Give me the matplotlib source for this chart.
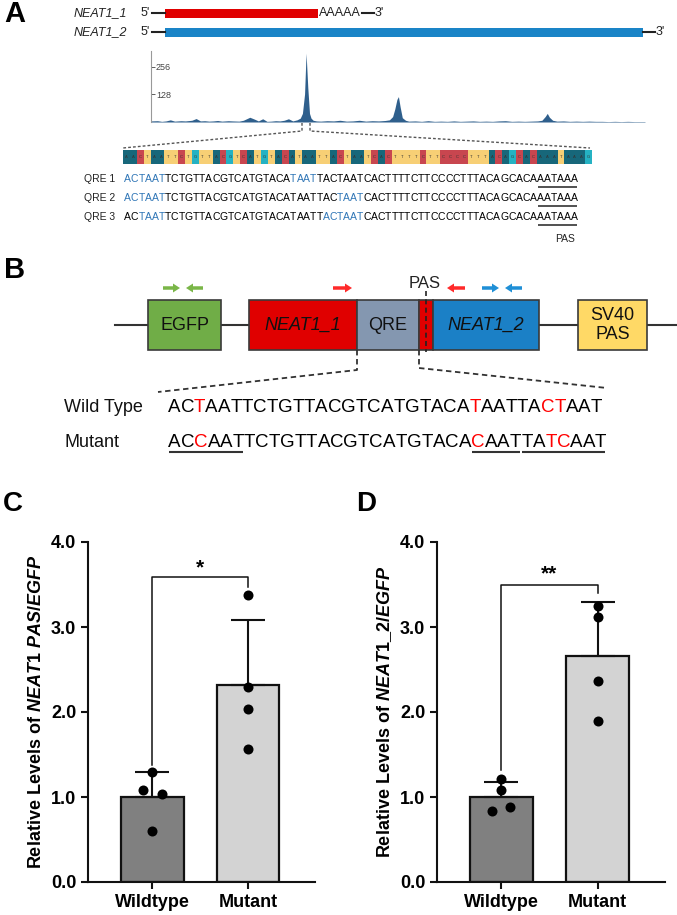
import numpy as np
import matplotlib
matplotlib.use('Agg')
import matplotlib.pyplot as plt
from matplotlib.patches import Rectangle

plt.rcParams['font.family'] = ['Liberation Sans', 'DejaVu Sans']
plt.rcParams['mathtext.fontset'] = 'custom'
plt.rcParams['mathtext.rm'] = 'Liberation Sans:bold'
plt.rcParams['mathtext.it'] = 'Liberation Sans:italic:bold'
plt.rcParams['mathtext.bf'] = 'Liberation Sans:bold'

# ---------------- data ----------------
groups = ['Wildtype', 'Mutant']
# panel C: NEAT1 PAS / EGFP
pas_wt = [1.29, 1.08, 1.03, 0.60]
pas_mut = [3.38, 2.29, 2.03, 1.57]
pas_wt_jit = [0.0, -0.097, 0.10, 0.0]
# panel D: NEAT1_2 / EGFP
n2_wt = [1.21, 1.08, 0.88, 0.83]
n2_mut = [3.25, 3.12, 2.37, 1.90]
n2_wt_jit = [0.0, 0.0, 0.093, -0.097]
mut_jit = [0.0, 0.0, 0.0, 0.0]

# coverage track along NEAT1 (kb, reads)
cov_kb = [0.0, 0.3, 0.5, 0.7, 0.9, 1.1, 1.4, 1.6, 1.9, 2.1,
          2.3, 2.5, 2.7, 2.9, 3.1, 3.3, 3.6, 3.8, 4.1, 4.3,
          4.6, 4.8, 5.0, 5.2, 5.4, 5.6, 5.8, 6.0, 6.2, 6.4,
          6.6, 6.8, 6.95, 7.05, 7.15, 7.22, 7.3, 7.38, 7.45, 7.55,
          7.7, 7.9, 8.2, 8.5, 8.8, 9.1, 9.4, 9.7, 10.0, 10.3,
          10.6, 10.9, 11.1, 11.25, 11.35, 11.45, 11.52, 11.6, 11.7, 11.85,
          12.0, 12.3, 12.6, 12.9, 13.2, 13.5, 13.8, 14.1, 14.4, 14.7,
          15.0, 15.3, 15.6, 15.9, 16.2, 16.5, 16.8, 17.1, 17.4, 17.7,
          18.0, 18.2, 18.35, 18.45, 18.55, 18.7, 18.9, 19.2, 19.5, 19.8,
          20.1, 20.4, 20.7, 21.0, 21.3, 21.6, 21.9, 22.2, 22.5, 23.0]
cov_val = [5, 6, 3, 5, 10, 4, 6, 5, 8, 16,
           5, 6, 4, 5, 7, 4, 6, 5, 4, 8,
           22, 14, 5, 15, 3, 4, 6, 5, 8, 15,
           5, 10, 18, 40, 130, 320, 160, 40, 18, 8,
           5, 4, 6, 5, 8, 4, 5, 8, 4, 6,
           5, 7, 10, 25, 60, 105, 118, 70, 20, 8,
           4, 5, 3, 6, 3, 4, 3, 5, 3, 4,
           5, 3, 4, 3, 5, 6, 3, 4, 3, 4,
           5, 8, 25, 40, 22, 8, 4, 5, 3, 4,
           3, 4, 3, 3, 2, 3, 2, 3, 2, 2]

bar_seq = 'AACTAATTCTGTTACGTCATGTACATAATTACTAATCACTTTTCTTCCCCTTTACAGCACAAATAAAG'
base_colors = {'A': '#17677a', 'C': '#c8464f', 'T': '#f7cf75', 'G': '#25b2c3'}

qre_seq = 'ACTAATTCTGTTACGTCATGTACATAATTACTAATCACTTTTCTTCCCCTTTACAGCACAAATAAA'
qre_labels = ['QRE 1', 'QRE 2', 'QRE 3']
qre_blue = [[(0, 6), (24, 28)], [(0, 6), (31, 35)], [(2, 6), (29, 35)]]
pas_site = [(60, 66)]

wt_seq = 'ACTAATTCTGTTACGTCATGTACATAATTACTAAT'
mut_seq = 'ACCAATTCTGTTACGTCATGTACACAATTATCAAT'
site_red = [(2, 3), (24, 25), (30, 32)]
mut_underline = [(0, 6), (24, 28), (28, 35)]

W, H = 677, 915
fig = plt.figure(figsize=(W / 100, H / 100), dpi=100)
ax0 = fig.add_axes([0, 0, 1, 1])
ax0.set_xlim(0, W)
ax0.set_ylim(H, 0)
ax0.axis('off')


def px_axes(x0, y0, x1, y1):
    return fig.add_axes([x0 / W, 1 - y1 / H, (x1 - x0) / W, (y1 - y0) / H])


def draw_seq(x, y, seq, colored, color, size):
    # one text per base so the underlines can find each letter
    arts = []
    for i, ch in enumerate(seq):
        c = color if any(a <= i < b for a, b in colored) else 'black'
        if not arts:
            t = ax0.text(x, y, ch, color=c, fontsize=size, ha='left', va='baseline')
        else:
            t = ax0.annotate(ch, xy=(1, 0), xycoords=arts[-1], color=c,
                             fontsize=size, ha='left', va='bottom')
        arts.append(t)
    return arts


def underline(arts, ranges, y, lw):
    fig.canvas.draw()
    inv = ax0.transData.inverted()
    for a, b in ranges:
        e0 = arts[a].get_window_extent()
        e1 = arts[b - 1].get_window_extent()
        xa = inv.transform((e0.x0, 0))[0] + 1.0
        xb = inv.transform((e1.x1, 0))[0] - 1.0
        ax0.plot([xa, xb], [y, y], color='#333333', lw=lw, solid_capstyle='butt')


# ---------------- panel A ----------------
ax0.text(4, 0, 'A', fontsize=21, fontweight='bold', ha='left', va='top')
for lab, y, x_end, col in [('NEAT1_1', 13, 318, '#e00000'), ('NEAT1_2', 32, 643, '#1a84c7')]:
    ax0.text(127, y, lab, style='italic', fontsize=9, ha='right', va='center', color='#222')
    ax0.text(141, y, "5'", fontsize=9, ha='left', va='center', color='#222')
    ax0.plot([152, 165], [y, y], color='#222', lw=1.5)
    ax0.add_patch(Rectangle((165, y - 4.5), x_end - 165, 9, color=col, lw=0))
ax0.text(319, 13, 'AAAAA', fontsize=9, ha='left', va='center', color='#222')
ax0.plot([362, 374], [13, 13], color='#222', lw=1.5)
ax0.text(375, 13, "3'", fontsize=9, ha='left', va='center', color='#222')
ax0.plot([643, 655], [32, 32], color='#222', lw=1.5)
ax0.text(656, 32, "3'", fontsize=9, ha='left', va='center', color='#222')

axc = px_axes(151, 51, 645, 122)
axc.fill_between(cov_kb, cov_val, color='#2f5f8c', lw=0)
axc.set_xlim(0, 23)
axc.set_ylim(0, 330)
axc.set_yticks([128, 256])
axc.set_xticks([])
axc.tick_params(axis='y', direction='in', length=3, width=0.6, pad=-3.5,
                labelsize=6.5, colors='#444')
for lb in axc.get_yticklabels():
    lb.set_horizontalalignment('left')
for s in ['top', 'right', 'bottom']:
    axc.spines[s].set_visible(False)
axc.spines['left'].set_color('#999999')
axc.spines['left'].set_linewidth(0.8)
axc.patch.set_alpha(0)

dash = dict(color='#555555', lw=1.0, ls=(0, (2, 1.5)))
ax0.plot([302, 302, 123], [123, 131, 148], **dash)
ax0.plot([310, 310, 590], [123, 131, 148], **dash)

axs = px_axes(123, 150, 592, 164)
axs.bar(range(len(bar_seq)), 1, width=1, align='edge',
        color=[base_colors[b] for b in bar_seq], lw=0)
for i, b in enumerate(bar_seq):
    axs.text(i + 0.5, 0.5, b, fontsize=3, ha='center', va='center', color='#333333')
axs.set_xlim(0, len(bar_seq))
axs.set_ylim(0, 1)
axs.axis('off')

qre_arts = []
for k, lab in enumerate(qre_labels):
    yb = 182 + 19 * k
    ax0.text(115, yb, lab, fontsize=7.5, ha='right', va='baseline', color='#222')
    qre_arts.append(draw_seq(124, yb, qre_seq, qre_blue[k], '#2e75b6', 7.5))
for k, arts in enumerate(qre_arts):
    underline(arts, pas_site, 186.5 + 19 * k, 1.2)
ax0.text(565, 242, 'PAS', fontsize=7.5, ha='center', va='baseline', color='#222')

# ---------------- panel B ----------------
ax0.text(4, 256, 'B', fontsize=21, fontweight='bold', ha='left', va='top')
ax0.plot([115, 677], [325, 325], color='#333333', lw=1.5, zorder=0)
boxes = [(148, 221, '#70ad47', 'EGFP', 'normal'),
         (249, 357, '#e00000', 'NEAT1_1', 'italic'),
         (357, 419, '#8497b0', 'QRE', 'normal'),
         (419, 433, '#e00000', '', 'normal'),
         (433, 539, '#1b80c6', 'NEAT1_2', 'italic'),
         (578, 647, '#ffd966', 'SV40\nPAS', 'normal')]
for x0, x1, col, lab, st in boxes:
    ax0.add_patch(Rectangle((x0, 300), x1 - x0, 50, facecolor=col,
                            edgecolor='#3a3a3a', lw=1.2, zorder=1))
    if lab:
        ax0.text((x0 + x1) / 2, 325, lab, fontsize=13, style=st, ha='center',
                 va='center', color='#111', linespacing=1.1, zorder=2)
ax0.plot([426, 426], [291, 352], color='#222', lw=1.2, ls=(0, (3, 2)), zorder=3)
ax0.text(425, 283, 'PAS', fontsize=12, ha='center', va='center', color='#222')

arrow_kw = dict(width=3.5, head_width=9, head_length=7, length_includes_head=True, lw=0)
ax0.arrow(163, 288, 17, 0, color='#7ab648', **arrow_kw)
ax0.arrow(203, 288, -17, 0, color='#7ab648', **arrow_kw)
ax0.arrow(333, 288, 19, 0, color='#ff2a2a', **arrow_kw)
ax0.arrow(465, 288, -18, 0, color='#ff2a2a', **arrow_kw)
ax0.arrow(482, 288, 17, 0, color='#1f8fd6', **arrow_kw)
ax0.arrow(522, 288, -17, 0, color='#1f8fd6', **arrow_kw)

bdash = dict(color='#333333', lw=1.3, ls=(0, (3, 2)))
ax0.plot([357, 357, 158], [350, 370, 392], **bdash)
ax0.plot([419, 419, 607], [350, 368, 388], **bdash)

ax0.text(64, 412, 'Wild Type', fontsize=13, ha='left', va='baseline', color='#111')
ax0.text(64, 447, 'Mutant', fontsize=13, ha='left', va='baseline', color='#111')
draw_seq(168, 412, wt_seq, site_red, '#ff0000', 13.5)
mut_arts = draw_seq(168, 447, mut_seq, site_red, '#ff0000', 13.5)
underline(mut_arts, mut_underline, 452, 1.5)


# ---------------- panels C and D ----------------
def bar_panel(ax, wt, mut, wt_jit, ylabel, stars, br_y, left_leg, right_leg, star_y):
    means = [np.mean(wt), np.mean(mut)]
    sds = [np.std(wt, ddof=1), np.std(mut, ddof=1)]
    ax.bar([0, 1], means, width=0.656, color=['#808080', '#d3d3d3'],
           edgecolor='#111111', linewidth=1.6, zorder=2)
    ax.errorbar([0, 1], means, yerr=[[0, 0], sds], fmt='none', ecolor='#111111',
                elinewidth=1.5, capsize=12.5, capthick=1.5, zorder=3)
    ax.scatter(np.array(wt_jit), wt, s=52, color='black', zorder=4, lw=0)
    ax.scatter(1 + np.array(mut_jit), mut, s=52, color='black', zorder=4, lw=0)
    ax.plot([0, 0, 1, 1], [left_leg, br_y, br_y, right_leg], color='#111111', lw=1.1)
    ax.text(0.5, star_y, stars, fontsize=15, fontweight='bold', ha='center', va='center')
    ax.set_xlim(-0.667, 1.698)
    ax.set_ylim(0, 4.0)
    ax.set_yticks([0, 1, 2, 3, 4])
    ax.set_yticklabels(['%.1f' % v for v in [0, 1, 2, 3, 4]])
    ax.set_xticks([0, 1])
    ax.set_xticklabels(groups)
    ax.tick_params(length=5, width=1.5, labelsize=13, color='#111111')
    for lb in ax.get_xticklabels() + ax.get_yticklabels():
        lb.set_fontweight('bold')
    for s in ['top', 'right']:
        ax.spines[s].set_visible(False)
    for s in ['left', 'bottom']:
        ax.spines[s].set_linewidth(1.5)
        ax.spines[s].set_color('#111111')
    ax.set_ylabel(ylabel, fontsize=13, fontweight='bold', labelpad=4)
    ax.patch.set_alpha(0)


ax0.text(3, 491, 'C', fontsize=20, fontweight='bold', ha='left', va='top')
ax0.text(356, 491, 'D', fontsize=20, fontweight='bold', ha='left', va='top')

axC = px_axes(88, 542, 315, 882)
bar_panel(axC, pas_wt, pas_mut, pas_wt_jit,
          r'Relative Levels of $\mathit{NEAT1\ PAS/EGFP}$', '*', 3.59, 1.38, 3.47, 3.70)
axD = px_axes(437, 542, 665, 882)
bar_panel(axD, n2_wt, n2_mut, n2_wt_jit,
          r'Relative Levels of $\mathit{NEAT1\_2/EGFP}$', '**', 3.50, 1.32, 3.40, 3.62)

fig.savefig('out.png', dpi=100)
